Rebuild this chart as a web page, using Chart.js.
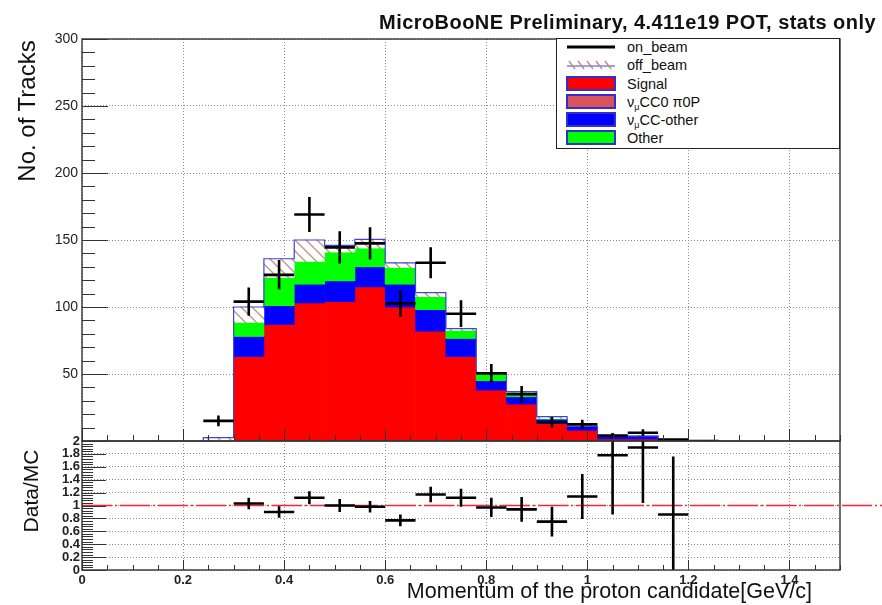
<!DOCTYPE html>
<html><head><meta charset="utf-8">
<script src="https://cdn.jsdelivr.net/npm/chart.js@4.4.1/dist/chart.umd.min.js"></script>
<style>
html,body{margin:0;padding:0;background:#fff;}
#wrap{position:relative;width:882px;height:605px;overflow:hidden;font-family:"Liberation Sans",Arial,Helvetica,sans-serif;color:#111;}
canvas{position:absolute;left:0;top:0;}
.abs{position:absolute;white-space:nowrap;}
#title{right:6px;top:12px;font-weight:bold;font-size:20px;line-height:20px;letter-spacing:0.45px;}
.rot{transform:translate(-50%,-50%) rotate(-90deg);}
#ytitle1{left:27px;top:111px;font-size:24px;line-height:24px;}
#ytitle2{left:30px;top:491px;font-size:21px;line-height:21px;}
#xtitle{right:70px;top:581px;font-size:21.5px;line-height:21.5px;}
#legend{position:absolute;left:556px;top:38px;width:284px;height:111px;box-sizing:border-box;border:1.5px solid #222;background:#fff;}
#legend .lab{position:absolute;left:70px;font-size:14.5px;line-height:18px;}
#legend svg{position:absolute;left:9px;}
sub{font-size:9px;vertical-align:-3px;line-height:0;}
</style></head>
<body>
<div id="wrap">
<canvas id="top" width="882" height="605"></canvas>
<canvas id="bot" width="882" height="605"></canvas>
<div id="title" class="abs">MicroBooNE Preliminary, 4.411e19 POT, stats only</div>
<div id="ytitle1" class="abs rot">No. of Tracks</div>
<div id="ytitle2" class="abs rot">Data/MC</div>
<div id="xtitle" class="abs">Momentum of the proton candidate[GeV/c]</div>
<div id="legend">
  <svg style="top:1px" width="50" height="14"><line x1="1" y1="7" x2="49" y2="7" stroke="#000" stroke-width="3"/></svg>
  <div class="lab" style="top:-1px">on_beam</div>
  <svg style="top:19px" width="50" height="14"><line x1="1" y1="8" x2="49" y2="8" stroke="#4040d0" stroke-width="1.2"/>
    <g stroke="#b88a78" stroke-width="1.3"><line x1="3" y1="3" x2="9" y2="11"/><line x1="12" y1="3" x2="18" y2="11"/><line x1="21" y1="3" x2="27" y2="11"/><line x1="30" y1="3" x2="36" y2="11"/><line x1="39" y1="3" x2="45" y2="11"/></g></svg>
  <div class="lab" style="top:17px">off_beam</div>
  <svg style="top:37px" width="50" height="15"><rect x="1" y="1" width="48" height="13" fill="#ff0000" stroke="#3030d0" stroke-width="2"/></svg>
  <div class="lab" style="top:36px">Signal</div>
  <svg style="top:55px" width="50" height="15"><rect x="1" y="1" width="48" height="13" fill="#d9535c" stroke="#3030d0" stroke-width="2"/></svg>
  <div class="lab" style="top:54px">ν<sub>μ</sub>CC0 π0P</div>
  <svg style="top:73px" width="50" height="15"><rect x="1" y="1" width="48" height="13" fill="#0000ff" stroke="#3030d0" stroke-width="2"/></svg>
  <div class="lab" style="top:72px">ν<sub>μ</sub>CC-other</div>
  <svg style="top:91px" width="50" height="15"><rect x="1" y="1" width="48" height="13" fill="#00ff00" stroke="#3030d0" stroke-width="2"/></svg>
  <div class="lab" style="top:90px">Other</div>
</div>
</div>
<script>
// ---------------- data ----------------
const binEdges    = [0.24,0.30,0.36,0.42,0.48,0.54,0.60,0.66,0.72,0.78,0.84,0.90,0.96,1.02,1.08,1.14,1.20,1.26];
const signal      = [0, 63, 87, 103, 104, 115, 100, 82, 63, 38, 27.5, 13, 8, 1.5, 1.5, 0.6, 0];
const numuCC0pi0P = [0, 0, 0, 0, 0, 0, 0, 0, 0, 0, 0, 0, 0, 0, 0, 0, 0];
const numuCCother = [0, 15, 14, 14, 15.5, 15, 17, 16, 13.5, 7, 5.5, 3.2, 2.7, 2.2, 2.2, 0.5, 0];
const otherBkg    = [0, 10.5, 21, 17, 21.5, 14, 12.5, 9.7, 6, 5, 3.3, 0.5, 0.2, 0, 0, 0, 0];
const offBeam     = [2.5, 11.5, 14, 16, 5, 6.5, 3.5, 3, 1.4, 1, 0.5, 1.5, 0, 0, 0, 0, 0];
const onBeam      = [15, 104, 124, 169, 144.5, 147.5, 102.7, 133, 95, 50.5, 35, 14, 12.4, 4, 6.2, 1, 0];
const onBeamErr   = [4, 10.5, 11, 13, 12, 12, 10, 11.5, 10, 7, 6, 4, 3.5, 2, 2.5, 1, 0];
const ratio       = [null, 1.03, 0.90, 1.12, 1.0, 0.98, 0.77, 1.17, 1.12, 0.97, 0.94, 0.75, 1.14, 1.78, 1.9, 0.86, null];
const ratioErr    = [0, 0.09, 0.09, 0.1, 0.1, 0.09, 0.09, 0.12, 0.14, 0.15, 0.19, 0.23, 0.35, 0.92, 0.86, 0.9, 0];
const xTickLabels = [0, 0.2, 0.4, 0.6, 0.8, 1.0, 1.2, 1.4];
const yTickLabelsTop   = [0, 50, 100, 150, 200, 250, 300];
const yTickLabelsRatio = [0, 0.2, 0.4, 0.6, 0.8, 1.0, 1.2, 1.4, 1.6, 1.8, 2.0];
const unityLine = [0, 1.6];

// ---------------- helpers ----------------
function makeHatch(){
  const s = 11, c = document.createElement('canvas'); c.width = s; c.height = s;
  const g = c.getContext('2d'); g.fillStyle = '#fff'; g.fillRect(0,0,s,s);
  g.strokeStyle = '#bb9482'; g.lineWidth = 1.3; g.beginPath();
  g.moveTo(-1,-1); g.lineTo(s+1,s+1); g.moveTo(-2,s-2); g.lineTo(2,s+2); g.moveTo(s-2,-2); g.lineTo(s+2,2);
  g.stroke();
  return g.createPattern(c,'repeat');
}
function crossPoints(vals, errs){
  const pts = [];
  vals.forEach((v,i) => {
    if (v === null) return;
    const c = (binEdges[i]+binEdges[i+1])/2;
    pts.push({x:binEdges[i], y:v},{x:binEdges[i+1], y:v},{x:c, y:null});
    if (errs[i] > 0) pts.push({x:c, y:v-errs[i]},{x:c, y:v+errs[i]},{x:c, y:null});
  });
  return pts;
}
const fmt = v => String(Math.round(v*10)/10);

const rootAxis = {
  id:'rootAxis',
  afterDraw(chart){
    const o = chart.options.plugins.rootAxis;
    const {ctx, chartArea:a, scales:{x,y}} = chart;
    ctx.save();
    ctx.strokeStyle = '#333'; ctx.lineWidth = 1;
    const ny = Math.round((y.max-y.min)/o.yMinor);
    for (let k=0;k<=ny;k++){
      const v = y.min + k*o.yMinor;
      const p = Math.round(y.getPixelForValue(v))+0.5;
      const major = Math.abs(v/o.yMajor - Math.round(v/o.yMajor)) < 1e-6;
      ctx.beginPath(); ctx.moveTo(a.left,p); ctx.lineTo(a.left+(major?o.yMajorLen:o.yMinorLen),p); ctx.stroke();
    }
    const nx = Math.round((x.max-x.min)/o.xMinor);
    for (let k=0;k<=nx;k++){
      const v = x.min + k*o.xMinor;
      const p = Math.round(x.getPixelForValue(v))+0.5;
      const major = Math.abs(v/o.xMajor - Math.round(v/o.xMajor)) < 1e-6;
      ctx.beginPath(); ctx.moveTo(p,a.bottom); ctx.lineTo(p,a.bottom-(major?o.xMajorLen:o.xMinorLen)); ctx.stroke();
    }
    ctx.lineWidth = 1.4; ctx.strokeStyle = '#333';
    ctx.strokeRect(a.left, a.top, a.right-a.left, a.bottom-a.top);
    ctx.restore();
  }
};

// ---------------- stacked MC ----------------
const hatch = makeHatch();
const components = [
  {label:'Signal', values:signal, color:'#ff0000'},
  {label:'νμCC0π0P', values:numuCC0pi0P, color:'#d9535c'},
  {label:'νμCC-other', values:numuCCother, color:'#0000ff'},
  {label:'Other', values:otherBkg, color:'#00ff00'},
  {label:'off_beam', values:offBeam, color:hatch}
];
const nb = binEdges.length-1;
const cum = new Array(nb).fill(0);
const barSets = components.map(c => {
  const pts = [];
  c.values.forEach((v,i) => {
    if (v > 0) pts.push({x:(binEdges[i]+binEdges[i+1])/2, y:[cum[i], cum[i]+v]});
    cum[i] += v;
  });
  return {type:'bar', label:c.label, data:pts, backgroundColor:c.color, borderWidth:0,
          grouped:false, barPercentage:1, categoryPercentage:1};
});
const outline = [{x:binEdges[0], y:0}];
cum.forEach((t,i) => { outline.push({x:binEdges[i], y:t},{x:binEdges[i+1], y:t}); });
outline.push({x:binEdges[nb], y:0});

const gridCommon = {color:'#8c8c8c', lineWidth:1, drawTicks:false};
const tickFont = {family:'"Liberation Sans", Arial, sans-serif', size:14};

new Chart(document.getElementById('top'), {
  type:'bar',
  data:{datasets:[
    {type:'line', label:'on_beam', data:crossPoints(onBeam,onBeamErr), borderColor:'#000', borderWidth:2.6,
     pointRadius:0, spanGaps:false, tension:0},
    {type:'line', label:'stack', data:outline, borderColor:'#4444d4', borderWidth:1.2, pointRadius:0, fill:false, tension:0},
    ...barSets.reverse()
  ]},
  options:{
    responsive:false, animation:false, events:[],
    layout:{padding:{left:0, top:39, right:42, bottom:164}},
    plugins:{legend:{display:false}, tooltip:{enabled:false},
      rootAxis:{yMinor:10, yMajor:50, yMajorLen:26, yMinorLen:13, xMinor:0.05, xMajor:0.2, xMajorLen:12, xMinorLen:6}},
    scales:{
      x:{type:'linear', min:0, max:1.5, offset:false, grid:{...gridCommon, offset:false}, border:{display:false, dash:[1,2]},
         afterBuildTicks: s => { s.ticks = xTickLabels.map(v => ({value:v})); },
         ticks:{display:false}, afterFit: s => { s.height = 0; }},
      y:{type:'linear', min:0, max:300, grid:gridCommon, border:{display:false, dash:[1,2]},
         afterBuildTicks: s => { s.ticks = yTickLabelsTop.map(v => ({value:v})); },
         ticks:{padding:4, color:'#222', font:tickFont, autoSkip:false, callback: v => v === 0 ? '' : String(v)},
         afterFit: s => { s.width = 82; }}
    }
  },
  plugins:[rootAxis]
});

new Chart(document.getElementById('bot'), {
  type:'line',
  data:{datasets:[
    {label:'ratio', data:crossPoints(ratio,ratioErr), borderColor:'#000', borderWidth:2.6, pointRadius:0, spanGaps:false, tension:0},
    {label:'unity', data:unityLine.map(x => ({x:x, y:1})), borderColor:'#ff2236', borderWidth:1.6,
     borderDash:[30,3,2,3], pointRadius:0, clip:false}
  ]},
  options:{
    responsive:false, animation:false, events:[],
    layout:{padding:{left:0, top:441, right:42, bottom:0}},
    plugins:{legend:{display:false}, tooltip:{enabled:false},
      rootAxis:{yMinor:0.04, yMajor:0.2, yMajorLen:24, yMinorLen:11, xMinor:0.05, xMajor:0.2, xMajorLen:10, xMinorLen:5}},
    scales:{
      x:{type:'linear', min:0, max:1.5, grid:gridCommon, border:{display:false, dash:[1,2]},
         afterBuildTicks: s => { s.ticks = xTickLabels.map(v => ({value:v})); },
         ticks:{padding:3, color:'#222', font:{...tickFont, size:13, weight:'bold'}, autoSkip:false, maxRotation:0, callback: fmt},
         afterFit: s => { s.height = 35; }},
      y:{type:'linear', min:0, max:2, grid:gridCommon, border:{display:false, dash:[1,2]},
         afterBuildTicks: s => { s.ticks = yTickLabelsRatio.map(v => ({value:v})); },
         ticks:{padding:2, color:'#222', font:{...tickFont, size:13, weight:'bold'}, autoSkip:false, callback: fmt},
         afterFit: s => { s.width = 82; }}
    }
  },
  plugins:[rootAxis]
});
</script>
</body></html>
